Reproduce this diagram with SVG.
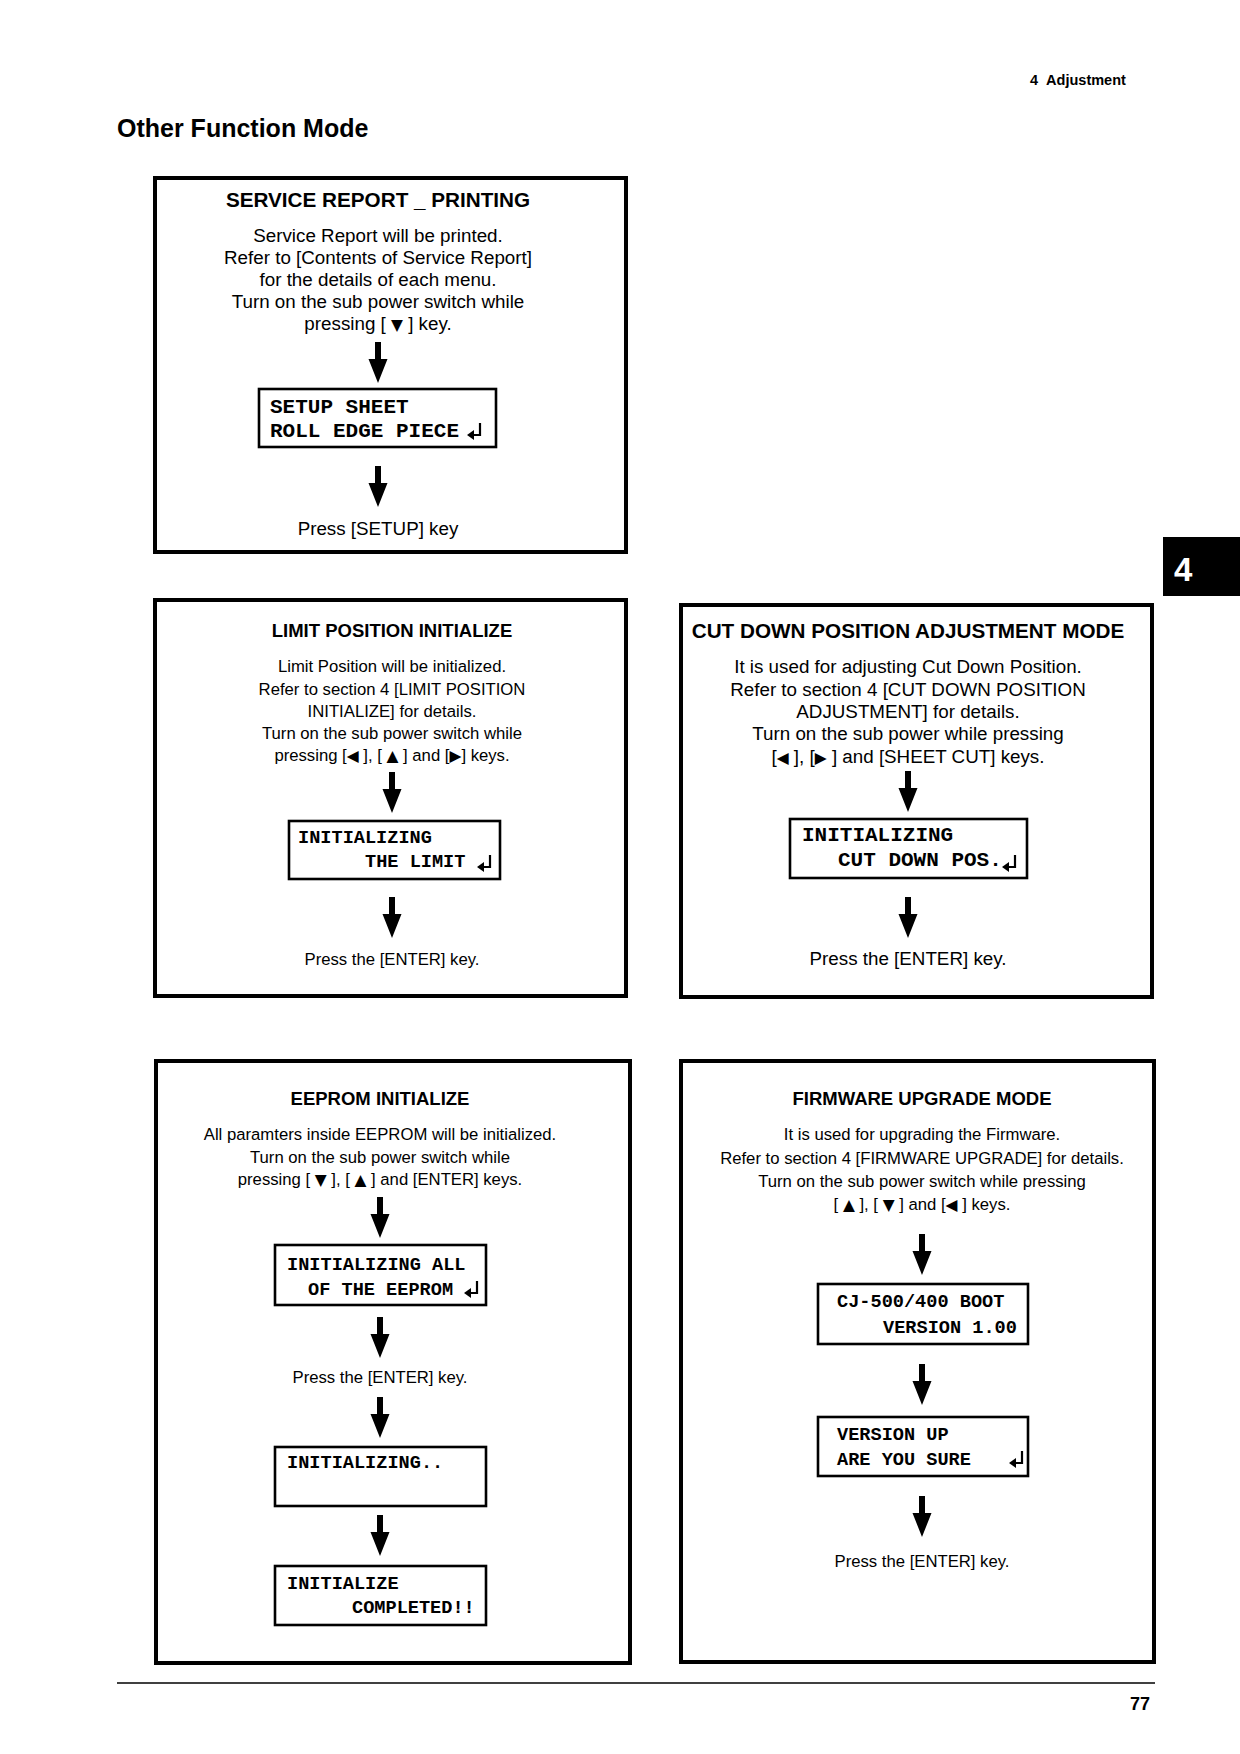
<svg xmlns="http://www.w3.org/2000/svg" xmlns:xlink="http://www.w3.org/1999/xlink" width="1240" height="1754" viewBox="0 0 1240 1754">
<style>
.box{fill:none;stroke:#000;stroke-width:4}
.lcd{fill:#fff;stroke:#000;stroke-width:2.6}
.s{font-family:"Liberation Sans",Arial,Helvetica,sans-serif;fill:#000}
.c{text-anchor:middle}
.b{font-weight:bold}
.bt{font-size:20.7px}
.bb{font-size:18.8px}
.st{font-size:18.5px}
.sb{font-size:16.7px}
.m{font-family:"Liberation Mono","Courier New",monospace;font-weight:bold;fill:#000}
.mb{font-size:21px}
.ms{font-size:18.6px}
.y{font-family:"DejaVu Sans",sans-serif;font-size:15.5px}
</style>
<defs>
<path id="arr" d="M-3,0 H3 V17 H9.5 L0,41 L-9.5,17 H-3 Z" fill="#000"/>
<g id="ent"><path d="M13,0 V12 H6" fill="none" stroke="#000" stroke-width="2.2"/><path d="M0,12 L7,7 L7,17 Z" fill="#000"/></g>
</defs>
<rect width="1240" height="1754" fill="#fff"/>

<g id="page-header">
<text class="s b" x="1030" y="85" font-size="14.5">4&#160;&#160;Adjustment</text>
<text class="s b" x="117" y="137" font-size="25">Other Function Mode</text>
<rect x="1163" y="537" width="77" height="59" fill="#000"/>
<text class="s b" x="1174" y="581" font-size="33" style="fill:#fff">4</text>
</g>

<g id="node-service-report">
<rect class="box" x="155" y="178" width="471" height="374"/>
<text class="s b c bt" x="378" y="207">SERVICE REPORT _ PRINTING</text>
<text class="s c bb" x="378" y="242">Service Report will be printed.</text>
<text class="s c bb" x="378" y="264">Refer to [Contents of Service Report]</text>
<text class="s c bb" x="378" y="286">for the details of each menu.</text>
<text class="s c bb" x="378" y="308">Turn on the sub power switch while</text>
<text class="s c bb" x="378" y="330">pressing [ <tspan class="y">▼</tspan> ] key.</text>
<rect class="lcd" x="259" y="389" width="237" height="58"/>
<text class="m mb" x="270" y="413">SETUP SHEET</text>
<text class="m mb" x="270" y="437">ROLL EDGE PIECE</text>
<use href="#ent" xlink:href="#ent" x="467" y="423"/>
<text class="s c bb" x="378" y="535">Press [SETUP] key</text>
</g>

<g id="node-limit-position">
<rect class="box" x="155" y="600" width="471" height="396"/>
<text class="s b c st" x="392" y="637">LIMIT POSITION INITIALIZE</text>
<text class="s c sb" x="392" y="672">Limit Position will be initialized.</text>
<text class="s c sb" x="392" y="694.5">Refer to section 4 [LIMIT POSITION</text>
<text class="s c sb" x="392" y="717">INITIALIZE] for details.</text>
<text class="s c sb" x="392" y="739">Turn on the sub power switch while</text>
<text class="s c sb" x="392" y="761">pressing [<tspan class="y">◀</tspan> ], [ <tspan class="y">▲</tspan> ] and [<tspan class="y">▶</tspan>] keys.</text>
<rect class="lcd" x="289" y="821" width="211" height="58"/>
<text class="m ms" x="298" y="843">INITIALIZING</text>
<text class="m ms" x="365" y="867">THE LIMIT</text>
<use href="#ent" xlink:href="#ent" x="477" y="855"/>
<text class="s c sb" x="392" y="965">Press the [ENTER] key.</text>
</g>

<g id="node-cut-down">
<rect class="box" x="681" y="605" width="471" height="392"/>
<text class="s b c bt" x="908" y="638">CUT DOWN POSITION ADJUSTMENT MODE</text>
<text class="s c bb" x="908" y="673">It is used for adjusting Cut Down Position.</text>
<text class="s c bb" x="908" y="696">Refer to section 4 [CUT DOWN POSITION</text>
<text class="s c bb" x="908" y="718">ADJUSTMENT] for details.</text>
<text class="s c bb" x="908" y="740">Turn on the sub power while pressing</text>
<text class="s c bb" x="908" y="763">[<tspan class="y">◀</tspan> ], [<tspan class="y">▶</tspan> ] and [SHEET CUT] keys.</text>
<rect class="lcd" x="790" y="819" width="237" height="59"/>
<text class="m mb" x="802" y="841">INITIALIZING</text>
<text class="m mb" x="838" y="866">CUT DOWN POS.</text>
<use href="#ent" xlink:href="#ent" x="1002" y="855"/>
<text class="s c bb" x="908" y="965">Press the [ENTER] key.</text>
</g>

<g id="node-eeprom">
<rect class="box" x="156" y="1061" width="474" height="602"/>
<text class="s b c st" x="380" y="1105">EEPROM INITIALIZE</text>
<text class="s c sb" x="380" y="1140">All paramters inside EEPROM will be initialized.</text>
<text class="s c sb" x="380" y="1163">Turn on the sub power switch while</text>
<text class="s c sb" x="380" y="1185">pressing [ <tspan class="y">▼</tspan> ], [ <tspan class="y">▲</tspan> ] and [ENTER] keys.</text>
<rect class="lcd" x="275" y="1245" width="211" height="60"/>
<text class="m ms" x="287" y="1270">INITIALIZING ALL</text>
<text class="m ms" x="308" y="1295">OF THE EEPROM</text>
<use href="#ent" xlink:href="#ent" x="464" y="1281"/>
<text class="s c sb" x="380" y="1383">Press the [ENTER] key.</text>
<rect class="lcd" x="275" y="1447" width="211" height="59"/>
<text class="m ms" x="287" y="1468">INITIALIZING..</text>
<rect class="lcd" x="275" y="1566" width="211" height="59"/>
<text class="m ms" x="287" y="1589">INITIALIZE</text>
<text class="m ms" x="352" y="1613">COMPLETED!!</text>
</g>

<g id="node-firmware">
<rect class="box" x="681" y="1061" width="473" height="601"/>
<text class="s b c st" x="922" y="1105">FIRMWARE UPGRADE MODE</text>
<text class="s c sb" x="922" y="1140">It is used for upgrading the Firmware.</text>
<text class="s c sb" x="922" y="1164">Refer to section 4 [FIRMWARE UPGRADE] for details.</text>
<text class="s c sb" x="922" y="1186.5">Turn on the sub power switch while pressing</text>
<text class="s c sb" x="922" y="1209.5">[ <tspan class="y">▲</tspan> ], [ <tspan class="y">▼</tspan> ] and [<tspan class="y">◀</tspan> ] keys.</text>
<rect class="lcd" x="818" y="1284" width="210" height="60"/>
<text class="m ms" x="837" y="1307">CJ-500/400 BOOT</text>
<text class="m ms" x="883" y="1333">VERSION 1.00</text>
<rect class="lcd" x="818" y="1417" width="210" height="59"/>
<text class="m ms" x="837" y="1440">VERSION UP</text>
<text class="m ms" x="837" y="1465">ARE YOU SURE</text>
<use href="#ent" xlink:href="#ent" x="1009" y="1451"/>
<text class="s c sb" x="922" y="1567">Press the [ENTER] key.</text>
</g>

<g id="connectors">
<use href="#arr" xlink:href="#arr" x="378" y="342"/>
<use href="#arr" xlink:href="#arr" x="378" y="466"/>
<use href="#arr" xlink:href="#arr" x="392" y="772"/>
<use href="#arr" xlink:href="#arr" x="392" y="897"/>
<use href="#arr" xlink:href="#arr" x="908" y="771"/>
<use href="#arr" xlink:href="#arr" x="908" y="897"/>
<use href="#arr" xlink:href="#arr" x="380" y="1197"/>
<use href="#arr" xlink:href="#arr" x="380" y="1317"/>
<use href="#arr" xlink:href="#arr" x="380" y="1397"/>
<use href="#arr" xlink:href="#arr" x="380" y="1515"/>
<use href="#arr" xlink:href="#arr" x="922" y="1234"/>
<use href="#arr" xlink:href="#arr" x="922" y="1364"/>
<use href="#arr" xlink:href="#arr" x="922" y="1496"/>
</g>

<g id="page-footer">
<line x1="117" y1="1683" x2="1155" y2="1683" stroke="#000" stroke-width="1.6"/>
<text class="s b" x="1150" y="1710" font-size="18" text-anchor="end">77</text>
</g>
</svg>
